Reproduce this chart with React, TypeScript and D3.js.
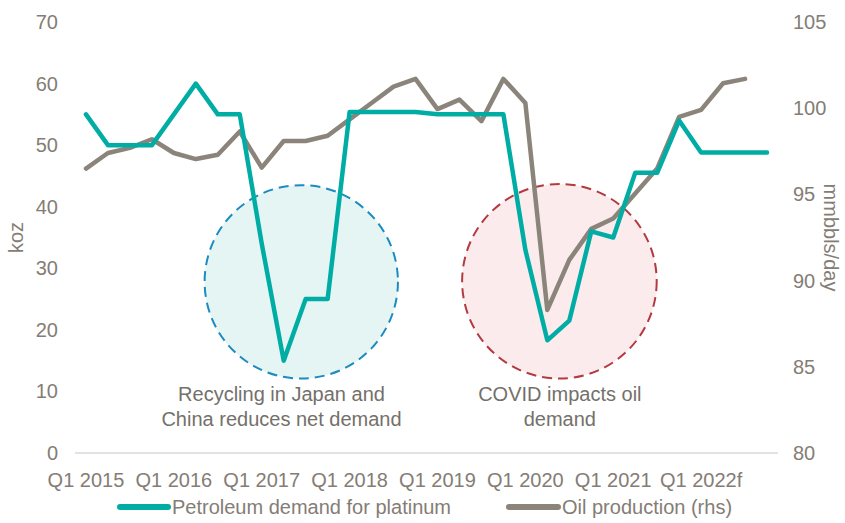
import * as d3 from "d3";

// Quarterly categories, Q1 2015 .. Q4 2022
const YEARS = [2015, 2016, 2017, 2018, 2019, 2020, 2021, 2022];
const QUARTERS = ["Q1", "Q2", "Q3", "Q4"];
const CATEGORIES = YEARS.flatMap((y) => QUARTERS.map((q) => `${q} ${y}`));

// label shown under every 4th category
const X_TICK_LABELS = [
  "Q1 2015", "Q1 2016", "Q1 2017", "Q1 2018",
  "Q1 2019", "Q1 2020", "Q1 2021", "Q1 2022f",
];

// koz, left axis
const PETROLEUM_DEMAND = [
  55, 50, 50, 50, 55, 60, 55, 55,
  34, 15, 25, 25, 55.4, 55.4, 55.4, 55.4,
  55, 55, 55, 55, 33, 18.3, 21.5, 36,
  35, 45.5, 45.5, 54, 48.8, 48.8, 48.8, 48.8,
];

// mmbbls/day, right axis (ends one quarter earlier)
const OIL_PRODUCTION = [
  96.5, 97.4, 97.7, 98.2, 97.4, 97.05, 97.3, 98.65,
  96.55, 98.1, 98.1, 98.4, 99.35, 100.3, 101.25, 101.7,
  99.95, 100.5, 99.25, 101.7, 100.3, 88.3, 91.2, 93.0,
  93.6, 95.05, 96.5, 99.5, 99.9, 101.45, 101.7,
];

const LEFT_TICKS = [0, 10, 20, 30, 40, 50, 60, 70];
const RIGHT_TICKS = [80, 85, 90, 95, 100, 105];

// circle annotations: centre in (category index, koz), radius in koz
const ANNOTATIONS = [
  {
    at: 9.8, value: 27.8, radius: 15.7,
    lines: ["Recycling in Japan and", "China reduces net demand"],
    textAt: 8.9, fill: "#e5f5f4", stroke: "#1a8cc0",
  },
  {
    at: 21.55, value: 27.9, radius: 15.8,
    lines: ["COVID impacts oil", "demand"],
    textAt: 21.57, fill: "#fcebec", stroke: "#b23a40",
  },
];

const W = 845;
const H = 523;
const M = { top: 22, right: 67, bottom: 70, left: 75 };

const TEAL = "#00ada4";
const GREY = "#8b847b";
const TICK = "#847d75";
const FONT = "'Liberation Sans', Arial, sans-serif";

export default function App() {
  const x = d3
    .scaleBand<string>()
    .domain(CATEGORIES)
    .range([M.left, W - M.right]);
  const cx = (i: number) => x(CATEGORIES[0])! + x.bandwidth() / 2 + i * x.step();

  const yL = d3.scaleLinear().domain([0, 70]).range([H - M.bottom, M.top]);
  const yR = d3.scaleLinear().domain([80, 105]).range([H - M.bottom, M.top]);

  const demandLine = d3
    .line<number>()
    .x((_d, i) => cx(i))
    .y((d) => yL(d));
  const oilLine = d3
    .line<number>()
    .x((_d, i) => cx(i))
    .y((d) => yR(d));

  const base = yL(0);

  return (
    <div style={{ position: "absolute", left: 0, top: 0 }}>
      <svg width={W} height={H} style={{ display: "block" }} fontFamily={FONT}>
        <rect width={W} height={H} fill="#fff" />

        {/* annotation circles, behind the lines */}
        {ANNOTATIONS.map((a, k) => (
          <circle
            key={k}
            cx={cx(a.at)}
            cy={yL(a.value)}
            r={base - yL(a.radius)}
            fill={a.fill}
            stroke={a.stroke}
            strokeWidth={2}
            strokeDasharray="10 6"
          />
        ))}

        {/* bottom axis line */}
        <line
          x1={M.left}
          x2={W - M.right}
          y1={base}
          y2={base}
          stroke="#d9d9d9"
          strokeWidth={1.5}
        />

        {/* left ticks */}
        {LEFT_TICKS.map((t) => (
          <text
            key={t}
            x={58}
            y={yL(t)}
            dy="0.35em"
            textAnchor="end"
            fontSize={20}
            fill={TICK}
          >
            {t}
          </text>
        ))}
        <text
          transform={`translate(23,${yL(35)}) rotate(-90)`}
          textAnchor="middle"
          fontSize={20}
          fill={TICK}
        >
          koz
        </text>

        {/* right ticks, left-aligned */}
        {RIGHT_TICKS.map((t) => (
          <text
            key={t}
            x={793}
            y={yR(t)}
            dy="0.35em"
            textAnchor="start"
            fontSize={20}
            fill={TICK}
          >
            {t}
          </text>
        ))}
        <text
          transform={`translate(824,${yR(92.5)}) rotate(90)`}
          textAnchor="middle"
          fontSize={20}
          fill={TICK}
        >
          mmbbls/day
        </text>

        {/* x labels */}
        {X_TICK_LABELS.map((l, i) => (
          <text
            key={l}
            x={cx(i * 4)}
            y={base + 34}
            textAnchor="middle"
            fontSize={20}
            fill={TICK}
          >
            {l}
          </text>
        ))}

        {/* series */}
        <path
          d={oilLine(OIL_PRODUCTION) ?? ""}
          fill="none"
          stroke={GREY}
          strokeWidth={4.5}
          strokeLinejoin="round"
          strokeLinecap="round"
        />
        <path
          d={demandLine(PETROLEUM_DEMAND) ?? ""}
          fill="none"
          stroke={TEAL}
          strokeWidth={4.5}
          strokeLinejoin="round"
          strokeLinecap="round"
        />

        {/* annotation text */}
        {ANNOTATIONS.map((a, k) =>
          a.lines.map((ln, j) => (
            <text
              key={`${k}-${j}`}
              x={cx(a.textAt)}
              y={yL(8.4) + j * 25}
              textAnchor="middle"
              fontSize={20}
              fill="#74706a"
            >
              {ln}
            </text>
          )),
        )}

        {/* legend */}
        <g transform={`translate(0,${H - 16})`}>
          <line x1={120} x2={168} y1={0} y2={0} stroke={TEAL} strokeWidth={6} strokeLinecap="round" />
          <text x={172} y={0} dy="0.35em" fontSize={20} fill={TICK}>
            Petroleum demand for platinum
          </text>
          <line x1={509} x2={558} y1={0} y2={0} stroke={GREY} strokeWidth={6} strokeLinecap="round" />
          <text x={562} y={0} dy="0.35em" fontSize={20} fill={TICK}>
            Oil production (rhs)
          </text>
        </g>
      </svg>
    </div>
  );
}
